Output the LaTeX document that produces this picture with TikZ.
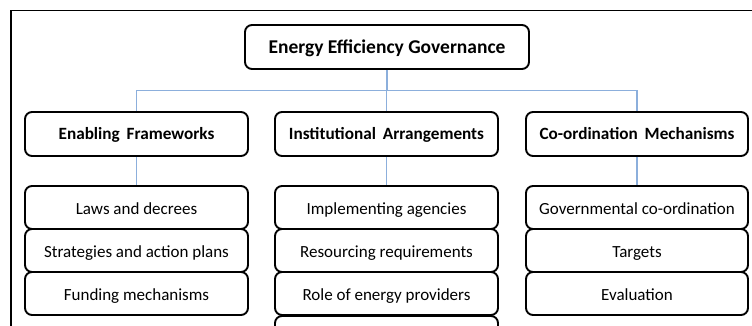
\documentclass[tikz,border=0pt]{standalone}
\usepackage{fontspec}
\setmainfont{Carlito}
\newcommand\myheadfont{\fontsize{17.2}{20}\selectfont\bfseries\spaceskip=0.4em plus 0.1em\relax}
\newcommand\mytitlefont{\fontsize{19.5}{22}\selectfont\bfseries}
\newcommand\myitemfont{\fontsize{17}{20}\selectfont}
\begin{document}
\begin{tikzpicture}[x=1pt,y=-1pt,
  box/.style={draw=black,line width=1.9pt,rounded corners=7pt,inner sep=0pt,
    minimum width=223pt,minimum height=43pt,align=center,
    text height=13.5pt,text depth=0pt,
    font=\myitemfont},
  headbox/.style={box,minimum height=44pt,text height=11.5pt,font=\myheadfont},
  conn/.style={draw={rgb,255:red,140;green,175;blue,220},line width=1.1pt}]
\useasboundingbox (0,0) rectangle (752,326);
\clip (0,0) rectangle (752,326);
\draw[line width=1.5pt] (10.75,340) -- (10.75,10.75) -- (760,10.75);
% nodes
\node[headbox,minimum width=284pt,font=\mytitlefont,text height=12.5pt] (top) at (387,47) {Energy Efficiency Governance};
\node[headbox] (ef) at (136.5,134) {Enabling Frameworks};
\node[headbox] (ia) at (386.5,134) {Institutional Arrangements};
\node[headbox,minimum width=222pt] (cm) at (637,134) {Co-ordination Mechanisms};
\node[box] (ef1) at (136.5,207.5) {Laws and decrees};
\node[box] (ef2) at (136.5,250.5) {Strategies and action plans};
\node[box] (ef3) at (136.5,293.5) {Funding mechanisms};
\node[box] (ia1) at (386.5,207.5) {Implementing agencies};
\node[box] (ia2) at (386.5,250.5) {Resourcing requirements};
\node[box] (ia3) at (386.5,293.5) {Role of energy providers};
\node[box] (ia4) at (386.5,337.5) {};
\node[box,minimum width=222pt] (cm1) at (637,207.5) {Governmental co-ordination};
\node[box,minimum width=222pt] (cm2) at (637,250.5) {Targets};
\node[box,minimum width=222pt] (cm3) at (637,293.5) {Evaluation};
% connectors
\coordinate (bus) at (387,90.5);
\draw[conn] (top.south) -- (bus);
\draw[conn] (ef.north) -- (ef.north |- bus) -- (cm.north |- bus) -- (cm.north);
\draw[conn] (ia.north) -- (ia.north |- bus);
\draw[conn] (ef.south) -- (ef1.north);
\draw[conn] (ia.south) -- (ia1.north);
\draw[conn] (cm.south) -- (cm1.north);
\end{tikzpicture}
\end{document}
